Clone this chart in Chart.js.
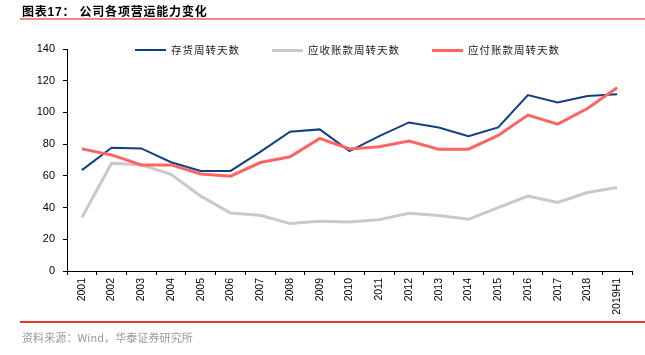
<!DOCTYPE html>
<html><head><meta charset="utf-8">
<script src="https://cdn.jsdelivr.net/npm/chart.js@4/dist/chart.umd.min.js"></script>
<style>
html,body{margin:0;padding:0;background:#fff;}
#wrap{position:relative;width:645px;height:355px;overflow:hidden;font-family:"Liberation Sans",Arial,"Noto Sans CJK SC",sans-serif;}
#c{position:absolute;left:0;top:0;}
#title{position:absolute;left:22px;top:2px;font-size:12px;font-weight:bold;color:#000;letter-spacing:0.8px;font-family:"Liberation Sans","Noto Sans CJK SC",sans-serif;white-space:pre;}
#tline{position:absolute;left:20px;top:18px;width:625px;height:2px;background:#f08a80;}
#fline{position:absolute;left:20px;top:321px;width:625px;height:1.5px;background:#e8392a;}
#src{position:absolute;left:22px;top:329px;font-size:11px;color:#9a9a9a;letter-spacing:0.1px;font-family:"Noto Sans CJK SC","Liberation Sans",sans-serif;white-space:pre;}
#legend{position:absolute;top:41px;left:0;width:645px;height:18px;font-family:"Noto Sans CJK SC",sans-serif;font-size:10.5px;color:#222;}
.li{position:absolute;top:0;height:18px;line-height:18px;white-space:nowrap;letter-spacing:1px;}
.sw{display:inline-block;width:31px;vertical-align:middle;margin-right:5px;position:relative;top:-1px;}
</style></head>
<body>
<div id="wrap">
<canvas id="c" width="645" height="355"></canvas>
<div id="title">图表17： 公司各项营运能力变化</div>
<div id="tline"></div>
<div id="legend"></div>
<div id="fline"></div>
<div id="src">资料来源：Wind，华泰证券研究所</div>
</div>
<script>
const categories = ["2001","2002","2003","2004","2005","2006","2007","2008","2009","2010","2011","2012","2013","2014","2015","2016","2017","2018","2019H1"];
const inventoryDays = [63.6,77.7,77.3,68.6,63.1,63.1,75.1,87.8,89.3,75.6,85.0,93.7,90.5,85.0,90.5,110.9,106.3,110.3,111.4];
const receivableDays = [33.7,68.0,66.9,61.0,47.2,36.6,35.2,29.9,31.4,30.9,32.4,36.4,35.0,32.6,40.0,47.2,43.2,49.5,52.7];
const payableDays = [77.0,73.2,66.9,66.9,61.2,59.8,68.4,72.0,83.6,77.0,78.3,81.9,76.8,76.8,85.5,98.3,92.6,102.5,115.5];
const seriesNames = ["存货周转天数","应收账款周转天数","应付账款周转天数"];
const yTicks = [0,20,40,60,80,100,120,140];

const colors = ["#123f7e","#c9c9c9","#ff6464"];
const widths = [2,3,3];
const orders = [1,2,0];
const dataArr = [inventoryDays, receivableDays, payableDays];

// HTML legend
const legendPos = [135,272,432];
const lg = document.getElementById('legend');
seriesNames.forEach((n,i)=>{
  const d = document.createElement('div');
  d.className='li'; d.style.left=legendPos[i]+'px';
  d.innerHTML = '<span class="sw" style="height:'+widths[i]+'px;background:'+colors[i]+'"></span>'+n;
  lg.appendChild(d);
});

new Chart(document.getElementById('c'), {
  type:'line',
  data:{
    labels:categories,
    datasets: seriesNames.map((n,i)=>({
      label:n, data:dataArr[i], borderColor:colors[i], backgroundColor:colors[i],
      borderWidth:widths[i], pointRadius:0, tension:0, fill:false, order:orders[i]
    }))
  },
  options:{
    responsive:false, animation:false, devicePixelRatio:1,
    layout:{padding:{left:0,right:13,top:49,bottom:0}},
    plugins:{legend:{display:false},tooltip:{enabled:false},title:{display:false}},
    scales:{
      x:{
        offset:true,
        grid:{offset:true,drawOnChartArea:false,drawTicks:true,tickLength:4,color:'#000'},
        border:{display:true,color:'#000',width:1},
        ticks:{autoSkip:false,minRotation:90,maxRotation:90,padding:3,color:'#000',font:{family:'"Liberation Sans",Arial',size:10.5}},
        afterFit:(s)=>{s.height=84;}
      },
      y:{
        min:0,max:140,
        afterBuildTicks:(s)=>{s.ticks=yTicks.map(v=>({value:v}));},
        grid:{drawOnChartArea:false,drawTicks:true,tickLength:4,color:'#000'},
        border:{display:true,color:'#000',width:1},
        ticks:{padding:8,color:'#000',font:{family:'"Liberation Sans",Arial',size:11}},
        afterFit:(s)=>{s.width=67;}
      }
    }
  }
});
</script>
</body></html>
